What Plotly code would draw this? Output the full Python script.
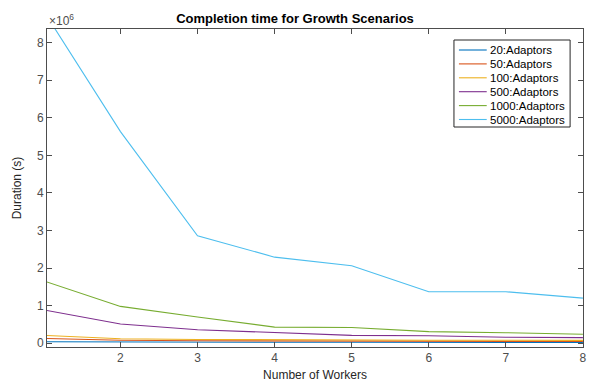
import plotly.graph_objects as go

workers = [1, 2, 3, 4, 5, 6, 7, 8]
series_names = ["20:Adaptors", "50:Adaptors", "100:Adaptors", "500:Adaptors", "1000:Adaptors", "5000:Adaptors"]
a20 = [0.04e6, 0.03e6, 0.03e6, 0.025e6, 0.025e6, 0.02e6, 0.02e6, 0.02e6]
a50 = [0.13e6, 0.08e6, 0.065e6, 0.06e6, 0.055e6, 0.05e6, 0.05e6, 0.045e6]
a100 = [0.21e6, 0.12e6, 0.10e6, 0.09e6, 0.085e6, 0.08e6, 0.08e6, 0.075e6]
a500 = [0.89e6, 0.51e6, 0.36e6, 0.28e6, 0.21e6, 0.20e6, 0.16e6, 0.15e6]
a1000 = [1.66e6, 0.98e6, 0.70e6, 0.43e6, 0.42e6, 0.31e6, 0.28e6, 0.24e6]
a5000 = [8.85e6, 5.63e6, 2.86e6, 2.29e6, 2.06e6, 1.37e6, 1.37e6, 1.20e6]
colors = ["#0072BD", "#D95319", "#EDB120", "#7E2F8E", "#77AC30", "#4DBEEE"]

W, H = 590, 383
ML, MR, MT, MB = 47, 3, 29, 36
PW, PH = W - ML - MR, H - MT - MB


def px(x):
    return (x - ML) / PW


def py(y):
    return (H - MB - y) / PH


fig = go.Figure()
for name, vals, c in zip(series_names, [a20, a50, a100, a500, a1000, a5000], colors):
    fig.add_trace(go.Scatter(x=workers, y=vals, mode="lines", name=name,
                             line=dict(color=c, width=1.1)))

axis_common = dict(showline=True, linecolor="#4d4d4d", linewidth=1, mirror="ticks",
                   ticks="inside", ticklen=5, tickcolor="#4d4d4d", showgrid=False,
                   zeroline=False, tickfont=dict(size=12, color="#4d4d4d"),
                   ticklabeloverflow="allow")

fig.update_layout(
    width=W, height=H,
    margin=dict(l=ML, r=MR, t=MT, b=MB),
    paper_bgcolor="white", plot_bgcolor="white",
    font=dict(family="Liberation Sans, Arial, sans-serif", color="#262626"),
    title=dict(text="<b>Completion time for Growth Scenarios</b>", x=px(317), xanchor="center",
               y=1 - 18 / H, yanchor="middle", font=dict(size=13, color="#000000")),
    xaxis=dict(range=[1.047, 8.001], tickvals=[2, 3, 4, 5, 6, 7, 8],
               title=dict(text="Number of Workers", font=dict(size=12, color="#262626"), standoff=6),
               **axis_common),
    yaxis=dict(range=[-0.1e6, 8.36e6], tickvals=[i * 1e6 for i in range(9)],
               ticktext=[str(i) for i in range(9)],
               title=dict(text="Duration (s)", font=dict(size=12, color="#262626"), standoff=12),
               **axis_common),
    showlegend=False,
)
fig.add_annotation(text="×10<sup>6</sup>", xref="paper", yref="paper", x=0, y=1.0,
                   xanchor="left", yanchor="bottom", showarrow=False, yshift=-1,
                   font=dict(size=12, color="#4d4d4d"))

# legend box (drawn to match the compact MATLAB legend)
fig.add_shape(type="rect", xref="paper", yref="paper", x0=px(457), x1=px(574),
              y0=py(127), y1=py(40), line=dict(color="#262626", width=1),
              fillcolor="white", layer="above")
for i, (name, c) in enumerate(zip(series_names, colors)):
    yc = 50 + 13.9 * i
    fig.add_shape(type="line", xref="paper", yref="paper", x0=px(462), x1=px(490),
                  y0=py(yc), y1=py(yc), line=dict(color=c, width=1.1), layer="above")
    fig.add_annotation(text=name, xref="paper", yref="paper", x=px(491), y=py(yc),
                       xanchor="left", yanchor="middle", showarrow=False,
                       font=dict(size=11.5, color="#000000"))

fig.write_html("out.html", config={"displayModeBar": False},
               post_script="document.body.style.margin='0';")
